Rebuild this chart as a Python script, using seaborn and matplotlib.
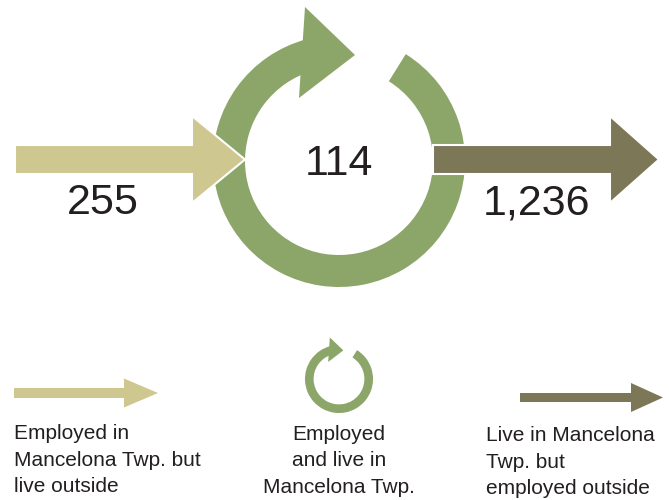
"""Inflow / outflow commuting diagram."""

import matplotlib

matplotlib.use("Agg")

import matplotlib.pyplot as plt
import seaborn as sns
from matplotlib.patches import Polygon, Wedge

# Worker counts: inflow, live-and-work, outflow
COUNTS = [255, 114, 1236]
LEGEND_LABELS = [
    "Employed in\nMancelona Twp. but\nlive outside",
    "Employed\nand live in\nMancelona Twp.",
    "Live in Mancelona\nTwp. but\nemployed outside",
]
COLORS = ["#CEC78F", "#8CA66A", "#7B7757"]
TEXT_COLOR = "#231F20"

W, H = 669, 500


def straight_arrow(ax, x0, x1, y_mid, shaft_h, head_h, tip_x, color, edge=None, lw=0):
    """Block arrow pointing right; y axis runs downward."""
    pts = [
        (x0, y_mid - shaft_h / 2),
        (x1, y_mid - shaft_h / 2),
        (x1, y_mid - head_h / 2),
        (tip_x, y_mid),
        (x1, y_mid + head_h / 2),
        (x1, y_mid + shaft_h / 2),
        (x0, y_mid + shaft_h / 2),
    ]
    ax.add_patch(
        Polygon(pts, closed=True, facecolor=color, edgecolor=edge or color,
                linewidth=lw, joinstyle="miter", zorder=3)
    )


def ring_arrow(ax, cx, cy, scale, color):
    """Circular arrow (clockwise, head at the top); y axis runs downward."""
    r_out, width = 126 * scale, 32 * scale
    ax.add_patch(
        Wedge((cx, cy), r_out, -58, 255, width=width, facecolor=color,
              edgecolor="none", zorder=2)
    )
    # head, offsets from centre with y pointing up
    head = [(-34, 154), (16, 106), (-40, 63)]
    pts = [(cx + dx * scale, cy - dy * scale) for dx, dy in head]
    ax.add_patch(Polygon(pts, closed=True, facecolor=color, edgecolor="none", zorder=2))


sns.set_theme(style="white")
plt.rcParams["font.family"] = ["Liberation Sans", "DejaVu Sans"]

fig = plt.figure(figsize=(W / 100, H / 100), dpi=100)
ax = fig.add_axes([0, 0, 1, 1])
ax.set_xlim(0, W)
ax.set_ylim(H, 0)
ax.axis("off")

#
# Main diagram
#
ring_arrow(ax, 339, 161, 1.0, COLORS[1])
straight_arrow(ax, 15, 192, 159.5, 29, 87, 245, COLORS[0], edge="white", lw=1.5)
straight_arrow(ax, 433, 610, 159.5, 29, 87, 659, COLORS[2], edge="white", lw=1.5)

num_kw = dict(fontsize=31, color=TEXT_COLOR, ha="center", va="baseline", zorder=4)
ax.text(103, 214, f"{COUNTS[0]:,}", **num_kw)
ax.text(339, 175, f"{COUNTS[1]:,}", **num_kw)
ax.text(536, 214, f"{COUNTS[2]:,}", **num_kw)

#
# Legend
#
straight_arrow(ax, 14, 124, 393, 10, 29, 158, COLORS[0])
ring_arrow(ax, 339, 379, 0.27, COLORS[1])
straight_arrow(ax, 520, 631, 397.5, 9, 29, 663, COLORS[2])

leg_kw = dict(fontsize=15, color=TEXT_COLOR, va="top", linespacing=1.5)
ax.text(14, 424, LEGEND_LABELS[0], ha="left", **leg_kw)
ax.text(339, 425, LEGEND_LABELS[1], ha="center", multialignment="center", **leg_kw)
ax.text(486, 426, LEGEND_LABELS[2], ha="left", **leg_kw)

fig.savefig("out.png", dpi=100)
plt.close(fig)
